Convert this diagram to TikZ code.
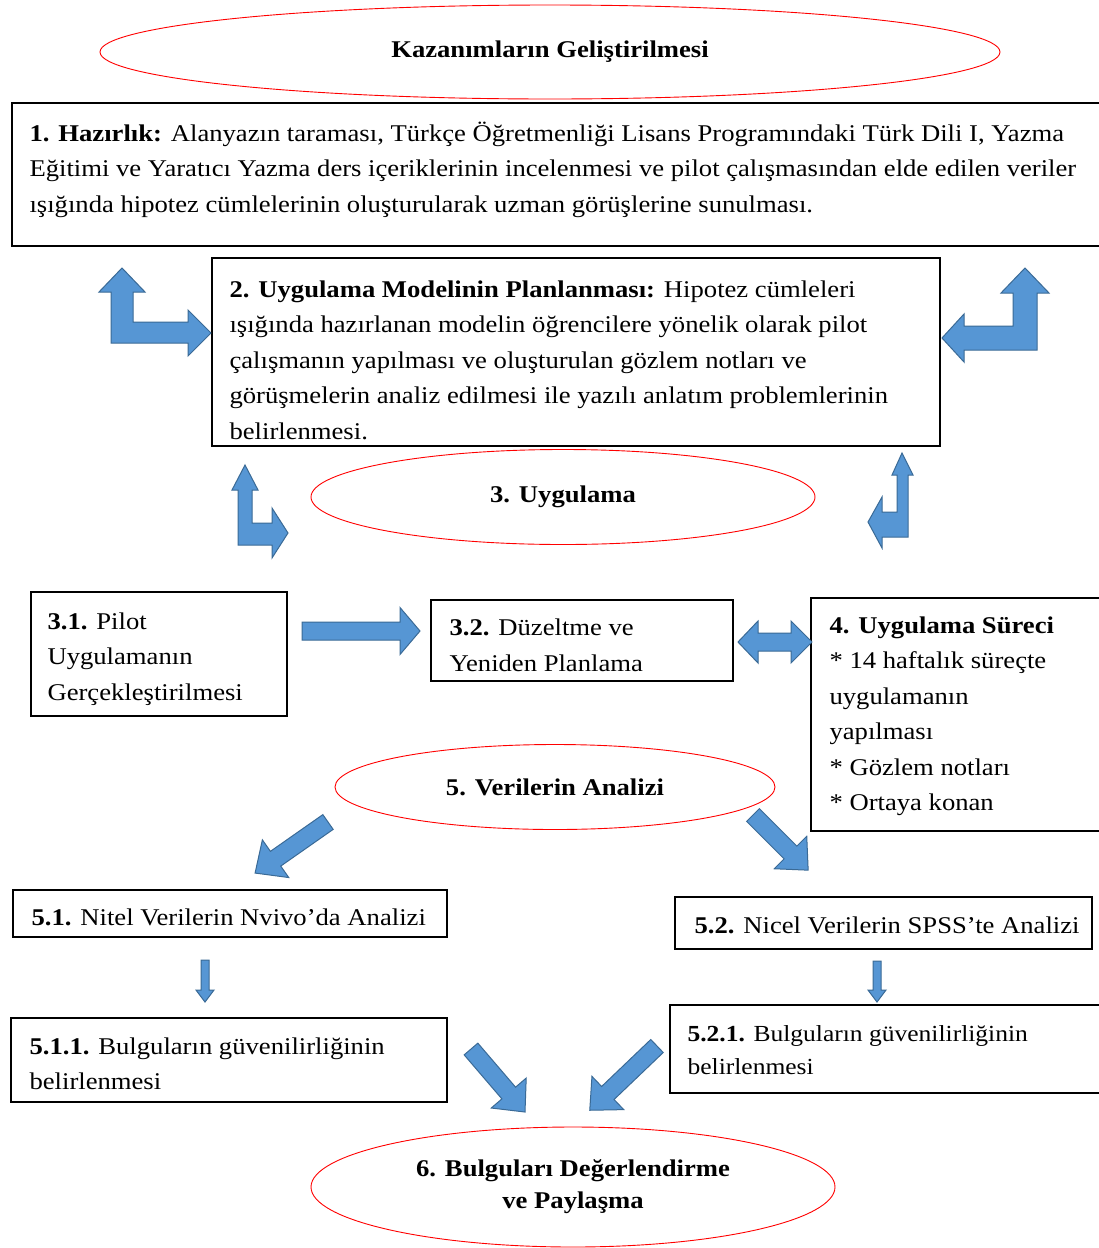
\documentclass[tikz,border=0pt]{standalone}
\usepackage{fontspec}
\setmainfont{Liberation Serif}[FakeStretch=1.11]
\usetikzlibrary{shapes.geometric}
\usetikzlibrary{positioning}

\definecolor{arrowblue}{RGB}{86,150,212}
\definecolor{arrowedge}{RGB}{58,106,150}

% straight block arrow: tail x, tail y, angle, length, shaft half, head half, head length
\newcommand{\blockarrow}[7]{%
  \begin{scope}[shift={(#1,#2)}, rotate=#3]
    \draw[barrow] (0,-#5) -- ({#4-#7},-#5) -- ({#4-#7},-#6) -- (#4,0)
      -- ({#4-#7},#6) -- ({#4-#7},#5) -- (0,#5) -- cycle;
  \end{scope}}

\begin{document}
\begin{tikzpicture}[x=1pt, y=-1pt,
    box/.style={draw, line width=1.3pt, inner sep=0pt},
    oval/.style={ellipse, draw=red, line width=0.9pt, inner sep=0pt, align=center,
      font=\fontsize{24}{35}\selectfont\bfseries},
    txt/.style={inner sep=0pt, align=left, font=\fontsize{24}{35.5}\selectfont},
    barrow/.style={fill=arrowblue, draw=arrowedge, line width=1pt, line join=miter},
  ]

  \fill[white] (0,0) rectangle (1099,1248);
  \useasboundingbox (0,0) rectangle (1099,1248);

  % ovals
  \node[oval, minimum width=900, minimum height=94] (e1) at (550,52) {Kazanımların Geliştirilmesi};
  \node[oval, minimum width=504, minimum height=95] (e3) at (563,497) {3. Uygulama};
  \node[oval, minimum width=440, minimum height=85] (e5) at (555,787) {5. Verilerin Analizi};
  \node[oval, minimum width=524, minimum height=120] (e6) at (573,1187) {\raisebox{-3pt}{6. Bulguları Değerlendirme}\\ve Paylaşma};

  % boxes
  \node[box, minimum width=1090, minimum height=143] (b1)   at (557,174.5) {};
  \node[box, minimum width=728,  minimum height=188] (b2)   at (576,352)   {};
  \node[box, minimum width=256,  minimum height=124] (b31)  at (159,654)   {};
  \node[box, minimum width=302,  minimum height=81]  (b32)  at (582,640.5) {};
  \node[box, minimum width=299,  minimum height=233] (b4)   at (960.5,714.5) {};
  \node[box, minimum width=434,  minimum height=47]  (b51)  at (230,913.5) {};
  \node[box, minimum width=417,  minimum height=52]  (b52)  at (883.5,923) {};
  \node[box, minimum width=436,  minimum height=84]  (b511) at (229,1060)  {};
  \node[box, minimum width=432,  minimum height=88]  (b521) at (886,1049)  {};

  % texts
  \node[txt, right=18pt of b1.west, yshift=5pt] (t1) {\textbf{1. Hazırlık:} Alanyazın taraması, Türkçe Öğretmenliği Lisans Programındaki Türk Dili I, Yazma\\
    Eğitimi ve Yaratıcı Yazma ders içeriklerinin incelenmesi ve pilot çalışmasından elde edilen veriler\\
    ışığında hipotez cümlelerinin oluşturularak uzman görüşlerine sunulması.};
  \node[txt, right=18pt of b2.west, yshift=-8pt] (t2) {\textbf{2. Uygulama Modelinin Planlanması:} Hipotez cümleleri\\
    ışığında hazırlanan modelin öğrencilere yönelik olarak pilot\\
    çalışmanın yapılması ve oluşturulan gözlem notları ve\\
    görüşmelerin analiz edilmesi ile yazılı anlatım problemlerinin\\
    belirlenmesi.};
  \node[txt, right=17pt of b31.west, yshift=-5pt] (t31) {\textbf{3.1.} Pilot\\Uygulamanın\\Gerçekleştirilmesi};
  \node[txt, right=19pt of b32.west, yshift=-5pt] (t32) {\textbf{3.2.} Düzeltme ve\\Yeniden Planlama};
  \node[txt, right=19pt of b4.west, yshift=-2pt]  (t4)  {\textbf{4. Uygulama Süreci}\\* 14 haftalık süreçte\\uygulamanın\\yapılması\\* Gözlem notları\\* Ortaya konan};
  \node[txt, right=19pt of b51.west, yshift=-4pt] (t51) {\textbf{5.1.} Nitel Verilerin Nvivo’da Analizi};
  \node[txt, right=20pt of b52.west, yshift=-2pt] (t52) {\textbf{5.2.} Nicel Verilerin SPSS’te Analizi};
  \node[txt, right=19pt of b511.west, yshift=-4pt] (t511) {\textbf{5.1.1.} Bulguların güvenilirliğinin\\belirlenmesi};
  \node[txt, right=18pt of b521.west, yshift=-1pt, font=\fontsize{23}{33}\selectfont] (t521) {\textbf{5.2.1.} Bulguların güvenilirliğinin\\belirlenmesi};

  % bent arrows
  \draw[barrow] (122,268) -- (145,292) -- (133,292) -- (133,322) -- (188,322) -- (188,310) -- (211,333)
    -- (188,356) -- (188,343) -- (111,343) -- (111,292) -- (99,292) -- cycle;
  \draw[barrow] (1025,268) -- (1049,293) -- (1037,293) -- (1037,350) -- (964,350) -- (964,362) -- (942,338)
    -- (964,314) -- (964,326) -- (1013,326) -- (1013,293) -- (1001,293) -- cycle;
  \draw[barrow] (245,465) -- (258,490) -- (252,490) -- (252,523) -- (272,523) -- (272,508) -- (288,533)
    -- (272,558) -- (272,545) -- (238,545) -- (238,490) -- (232,490) -- cycle;
  \draw[barrow] (902,453) -- (913,475) -- (908,475) -- (908,537) -- (882,537) -- (882,548) -- (868,522)
    -- (882,497) -- (882,512) -- (897,512) -- (897,475) -- (892,475) -- cycle;

  % straight arrows
  \blockarrow{302}{631}{0}{118}{9}{23.5}{20}
  \draw[barrow] (738,642) -- (758,621) -- (758,633) -- (791,633) -- (791,621) -- (812,642)
    -- (791,663) -- (791,651) -- (758,651) -- (758,663) -- cycle;
  \blockarrow{328}{822}{215}{89}{9}{23}{25}
  \blockarrow{753}{815}{-45}{78}{9}{23}{25}
  \blockarrow{205}{960}{-90}{42}{4}{9}{12}
  \blockarrow{877}{961}{-90}{41}{4}{9}{12}
  \blockarrow{471}{1049}{-49.4}{83}{9}{23}{25}
  \blockarrow{657}{1046}{223.7}{93}{9}{23}{25}

\end{tikzpicture}
\end{document}
